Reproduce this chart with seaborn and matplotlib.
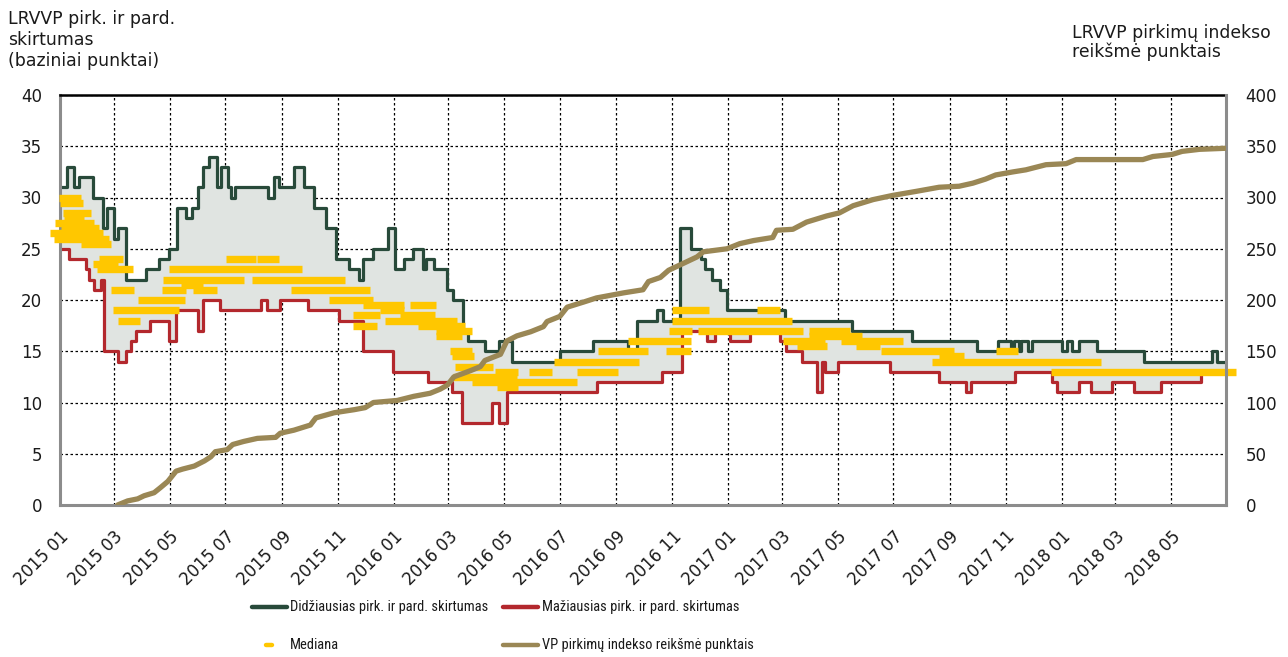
import pandas as pd
import numpy as np
import matplotlib
matplotlib.use('Agg')
import matplotlib.pyplot as plt
import matplotlib.dates as mdates
from matplotlib.lines import Line2D
import seaborn as sns

# ---- data ----
# widest bid/ask spread (step changes)
max_dates = ['2015-01-01', '2015-01-09', '2015-01-16', '2015-01-22', '2015-02-06', '2015-02-17',
             '2015-02-21', '2015-03-01', '2015-03-05', '2015-03-14', '2015-04-05', '2015-04-19',
             '2015-04-30', '2015-05-09', '2015-05-19', '2015-05-25', '2015-06-01', '2015-06-06',
             '2015-06-13', '2015-06-22', '2015-06-26', '2015-07-04', '2015-07-07', '2015-07-11',
             '2015-08-17', '2015-08-23', '2015-08-29', '2015-09-14', '2015-09-25', '2015-10-06',
             '2015-10-19', '2015-10-30', '2015-11-13', '2015-11-24', '2015-11-29', '2015-12-09',
             '2015-12-26', '2016-01-03', '2016-01-12', '2016-01-22', '2016-02-02', '2016-02-05',
             '2016-02-14', '2016-02-29', '2016-03-06', '2016-03-17', '2016-03-23', '2016-04-10',
             '2016-04-25', '2016-05-10', '2016-07-01', '2016-08-06', '2016-09-14', '2016-09-23',
             '2016-10-15', '2016-10-22', '2016-11-09', '2016-11-22', '2016-12-03', '2016-12-07',
             '2016-12-14', '2016-12-23', '2016-12-31', '2017-03-04', '2017-05-17', '2017-07-21',
             '2017-10-01', '2017-10-23', '2017-11-07', '2017-11-10', '2017-11-16', '2017-11-18',
             '2017-11-25', '2017-11-30', '2018-01-01', '2018-01-07', '2018-01-13', '2018-01-20',
             '2018-02-09', '2018-04-01', '2018-06-15', '2018-06-20', '2018-06-30']
max_vals = [31, 33, 31, 32, 30, 27,
            29, 26, 27, 22, 23, 24,
            25, 29, 28, 29, 31, 33,
            34, 31, 33, 31, 30, 31,
            30, 32, 31, 33, 31, 29,
            27, 24, 23, 22, 24, 25,
            27, 23, 24, 25, 23, 24,
            23, 21, 20, 17, 16, 15,
            16, 14, 15, 16, 15, 18,
            19, 18, 27, 25, 24, 23,
            22, 21, 19, 18, 17, 16,
            15, 16, 15, 16, 15, 16,
            15, 16, 15, 16, 15, 16,
            15, 14, 15, 14, 14]

# narrowest bid/ask spread
min_dates = ['2015-01-01', '2015-01-11', '2015-01-29', '2015-02-02', '2015-02-07', '2015-02-15',
             '2015-02-18', '2015-03-06', '2015-03-14', '2015-03-20', '2015-03-25', '2015-04-10',
             '2015-04-30', '2015-05-08', '2015-06-01', '2015-06-06', '2015-06-25', '2015-08-09',
             '2015-08-16', '2015-08-30', '2015-09-29', '2015-11-02', '2015-11-29', '2015-12-31',
             '2016-02-08', '2016-03-05', '2016-03-16', '2016-04-18', '2016-04-25', '2016-05-04',
             '2016-08-11', '2016-10-21', '2016-11-12', '2016-12-09', '2016-12-18', '2017-01-03',
             '2017-01-25', '2017-02-27', '2017-03-05', '2017-03-23', '2017-04-08', '2017-04-14',
             '2017-04-17', '2017-05-01', '2017-06-27', '2017-08-20', '2017-09-19', '2017-09-24',
             '2017-11-11', '2017-12-22', '2017-12-27', '2018-01-20', '2018-02-02', '2018-02-25',
             '2018-03-21', '2018-04-20', '2018-06-03', '2018-06-30']
min_vals = [25, 24, 23, 22, 21, 22,
            15, 14, 15, 16, 17, 18,
            16, 19, 17, 20, 19, 20,
            19, 20, 19, 18, 15, 13,
            12, 11, 8, 10, 8, 11,
            12, 13, 17, 16, 17, 16,
            17, 16, 15, 14, 11, 14,
            13, 14, 13, 12, 11, 12,
            13, 12, 11, 12, 11, 12,
            11, 12, 13, 13]

# purchase index (right axis)
vp_dates = ['2015-03-05', '2015-03-16', '2015-03-27', '2015-04-03', '2015-04-14', '2015-04-21',
            '2015-04-29', '2015-05-08', '2015-05-15', '2015-05-28', '2015-06-08', '2015-06-15',
            '2015-06-20', '2015-07-03', '2015-07-09', '2015-07-21', '2015-08-05', '2015-08-25',
            '2015-08-30', '2015-09-14', '2015-10-02', '2015-10-08', '2015-10-28', '2015-11-19',
            '2015-12-01', '2015-12-10', '2016-01-05', '2016-01-23', '2016-02-10', '2016-02-21',
            '2016-02-29', '2016-03-07', '2016-03-25', '2016-04-05', '2016-04-10', '2016-04-27',
            '2016-05-04', '2016-05-15', '2016-05-30', '2016-06-13', '2016-06-17', '2016-07-01',
            '2016-07-09', '2016-07-27', '2016-08-10', '2016-09-09', '2016-09-30', '2016-10-06',
            '2016-10-19', '2016-10-28', '2016-11-09', '2016-11-28', '2016-12-05', '2016-12-31',
            '2017-01-14', '2017-01-29', '2017-02-19', '2017-02-23', '2017-03-13', '2017-03-28',
            '2017-04-19', '2017-05-03', '2017-05-18', '2017-06-09', '2017-06-30', '2017-07-26',
            '2017-08-20', '2017-09-11', '2017-09-26', '2017-10-10', '2017-10-21', '2017-11-09',
            '2017-11-23', '2017-12-15', '2018-01-06', '2018-01-17', '2018-03-31', '2018-04-11',
            '2018-05-02', '2018-05-13', '2018-06-01', '2018-06-29']
vp_vals = [0, 4, 6, 9, 12, 17,
           23, 33, 35, 38, 43, 47,
           52, 54, 59, 62, 65, 66,
           70, 73, 78, 85, 90, 93,
           95, 100, 102, 106, 109, 113,
           117, 125, 131, 135, 141, 147,
           160, 165, 169, 174, 179, 184,
           193, 198, 202, 207, 210, 218,
           222, 229, 234, 242, 247, 250,
           255, 258, 261, 268, 269, 276,
           282, 285, 292, 298, 302, 306,
           310, 311, 314, 318, 322, 325,
           327, 332, 333, 337, 337, 340,
           342, 345, 347, 348]

# median: runs of daily dash markers at one level
med_vals = [30, 29.5, 28.5, 28, 27.5, 27, 26.5, 26, 25.5, 24, 23.5, 23, 21, 20, 19, 18,
            24, 24, 23, 22, 22, 21, 21, 21, 21.5, 20,
            19.5, 19, 19.5, 18.5, 18.5, 18, 17.5, 17.5, 17, 16.5, 15, 14.5, 13.5,
            13, 13, 13, 12.5, 12, 11.5, 14, 15, 16, 15, 17,
            18, 19, 19, 17, 17, 16.5, 16, 16, 15.5, 15.5, 15, 14.5, 14, 15, 13]
med_start = ['2014-12-31', '2015-01-01', '2015-01-04', '2015-01-05', '2014-12-27', '2015-01-02',
             '2014-12-21', '2014-12-25', '2015-01-24', '2015-02-13', '2015-02-06', '2015-02-11',
             '2015-02-26', '2015-03-27', '2015-02-28', '2015-03-05',
             '2015-07-02', '2015-08-05', '2015-04-30', '2015-04-24', '2015-07-30', '2015-04-23',
             '2015-05-27', '2015-09-11', '2015-05-13', '2015-10-22',
             '2015-11-29', '2015-12-17', '2016-01-19', '2015-11-18', '2016-01-08', '2015-12-23',
             '2015-11-18', '2016-01-28', '2016-02-17', '2016-02-17', '2016-03-03', '2016-03-05',
             '2016-03-08',
             '2016-04-21', '2016-05-28', '2016-07-20', '2016-03-06', '2016-03-27', '2016-04-23',
             '2016-06-25', '2016-08-12', '2016-09-14', '2016-10-25', '2016-10-29',
             '2016-11-01', '2016-11-01', '2017-02-02', '2016-11-29', '2017-03-31', '2017-03-31',
             '2017-03-02', '2017-05-05', '2017-03-18', '2017-05-21', '2017-06-18', '2017-08-20',
             '2017-08-12', '2017-10-21', '2017-12-20']
med_end = ['2015-01-24', '2015-01-26', '2015-02-04', '2015-01-27', '2015-02-07', '2015-02-13',
           '2015-02-17', '2015-02-24', '2015-02-26', '2015-03-11', '2015-03-05', '2015-03-22',
           '2015-03-23', '2015-05-18', '2015-05-11', '2015-03-30',
           '2015-08-03', '2015-08-29', '2015-09-23', '2015-07-21', '2015-11-09', '2015-05-19',
           '2015-06-22', '2015-12-06', '2015-06-07', '2015-12-10',
           '2016-01-12', '2016-01-12', '2016-02-16', '2015-12-17', '2016-02-15', '2016-03-10',
           '2015-12-14', '2016-03-19', '2016-03-27', '2016-03-16', '2016-03-27', '2016-03-29',
           '2016-04-19',
           '2016-05-16', '2016-06-22', '2016-09-03', '2016-05-15', '2016-07-20', '2016-05-16',
           '2016-09-26', '2016-10-05', '2016-11-22', '2016-11-21', '2016-11-23',
           '2017-03-12', '2016-12-11', '2017-02-27', '2017-03-24', '2017-05-14', '2017-05-28',
           '2017-04-17', '2017-07-11', '2017-04-19', '2017-06-16', '2017-09-05', '2017-09-16',
           '2018-02-13', '2017-11-14', '2018-07-11']

tick_labels = ['2015 01', '2015 03', '2015 05', '2015 07', '2015 09', '2015 11',
               '2016 01', '2016 03', '2016 05', '2016 07', '2016 09', '2016 11',
               '2017 01', '2017 03', '2017 05', '2017 07', '2017 09', '2017 11',
               '2018 01', '2018 03', '2018 05']

GREEN = '#284A3A'
RED = '#B3282D'
FILL = '#E0E4E1'
YELLOW = '#FFC700'
KHAKI = '#9A8755'
AX_GREY = '#8C8C8C'
TXT = '#1A1A1A'

sns.set_theme(style='white')
plt.rcParams['font.family'] = ['DejaVu Sans']

W, H = 1288, 657
fig = plt.figure(figsize=(W / 100, H / 100), dpi=100)
ax = fig.add_axes([60 / W, 1 - 505 / H, (1226 - 60) / W, 410 / H])

# spread band: both step series on a common set of dates
s_max = pd.Series(max_vals, index=pd.to_datetime(max_dates), name='max')
s_min = pd.Series(min_vals, index=pd.to_datetime(min_dates), name='min')
band = pd.concat([s_max, s_min], axis=1).sort_index().ffill()
ax.fill_between(band.index, band['min'], band['max'], step='post',
                color=FILL, linewidth=0, zorder=1)

sns.lineplot(x=s_min.index, y=s_min.values, ax=ax, color=RED, linewidth=2.3,
             drawstyle='steps-post', solid_joinstyle='round', zorder=2)
sns.lineplot(x=s_max.index, y=s_max.values, ax=ax, color=GREEN, linewidth=2.3,
             drawstyle='steps-post', solid_joinstyle='round', zorder=2)

ax.hlines(med_vals, mdates.date2num(pd.to_datetime(med_start)),
          mdates.date2num(pd.to_datetime(med_end)),
          colors=YELLOW, linewidth=5.3, zorder=4, clip_on=False)

ax.set_xlim(pd.Timestamp('2015-01-01'), pd.Timestamp('2018-06-30'))
ax.set_ylim(0, 40)
ax.set_yticks(np.arange(0, 45, 5))
tick_pos = pd.to_datetime(tick_labels, format='%Y %m')
ax.set_xticks(tick_pos)
ax.set_xticklabels(tick_labels, rotation=45, ha='right', va='top',
                   rotation_mode='anchor', fontsize=12, color=TXT)
ax.tick_params(axis='x', length=0, pad=16)
ax.tick_params(axis='y', length=0, pad=13, labelsize=12, labelcolor=TXT)
ax.set_xlabel('')
ax.set_ylabel('')
ax.set_axisbelow(True)
ax.grid(True, color='black', linestyle=(0, (2, 2)), linewidth=0.9)

for side in ['left', 'bottom']:
    ax.spines[side].set_color(AX_GREY)
    ax.spines[side].set_linewidth(2.2)
ax.spines['top'].set_color('black')
ax.spines['top'].set_linewidth(1.8)
ax.spines['right'].set_visible(False)

# purchase index on the right axis
ax2 = ax.twinx()
sns.lineplot(x=pd.to_datetime(vp_dates), y=vp_vals, ax=ax2, color=KHAKI,
             linewidth=3.8, solid_capstyle='round', solid_joinstyle='round', zorder=5)
ax2.set_ylim(0, 400)
ax2.set_yticks(np.arange(0, 450, 50))
ax2.tick_params(axis='y', length=0, pad=14, labelsize=12, labelcolor=TXT)
ax2.set_ylabel('')
ax2.grid(False)
for side in ['left', 'top', 'bottom']:
    ax2.spines[side].set_visible(False)
ax2.spines['right'].set_color(AX_GREY)
ax2.spines['right'].set_linewidth(2.2)

fig.text(8 / W, 1 - 10 / H, 'LRVVP pirk. ir pard.\nskirtumas\n(baziniai punktai)',
         ha='left', va='top', fontsize=12.4, color=TXT, linespacing=1.2)
fig.text(1072 / W, 1 - 24 / H, 'LRVVP pirkimų indekso\nreikšmė punktais',
         ha='left', va='top', fontsize=12.4, color=TXT, linespacing=1.02)

# legend, two columns under the plot (narrow type as in the original)
leg_font = ['Liberation Sans Narrow', 'Roboto Condensed', 'DejaVu Sans']
leg_items = [
    (252, 287, 607, GREEN, 'Didžiausias pirk. ir pard. skirtumas'),
    (503, 538, 607, RED, 'Mažiausias pirk. ir pard. skirtumas'),
    (266, 272, 645, YELLOW, 'Mediana'),
    (503, 538, 645, KHAKI, 'VP pirkimų indekso reikšmė punktais'),
]
leg_texts = []
for x0, x1, yy, col, lab in leg_items:
    fig.add_artist(Line2D([x0 / W, x1 / W], [1 - yy / H, 1 - yy / H],
                          transform=fig.transFigure, color=col, linewidth=3.2,
                          solid_capstyle='round'))
    tx = 290 if x0 < 400 else 542
    leg_texts.append(fig.text(tx / W, 1 - yy / H, lab, ha='left', va='center',
                              fontsize=11, color=TXT, family=leg_font,
                              stretch='condensed'))

# size legend type so the first label spans ~198 px like the original
renderer = fig.canvas.get_renderer()
w0 = leg_texts[0].get_window_extent(renderer).width
size = min(14.0, 11.0 * 198.0 / w0)
for t in leg_texts:
    t.set_fontsize(size)

fig.savefig('out.png', dpi=100)
